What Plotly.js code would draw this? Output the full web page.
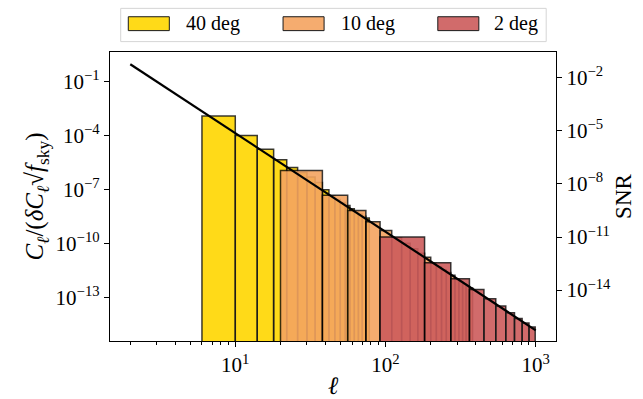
<!DOCTYPE html>
<html>
<head>
<meta charset="utf-8">
<script src="https://cdn.plot.ly/plotly-3.0.1.min.js"></script>
<style>
  html, body { margin: 0; padding: 0; background: #fff; }
  #chart { width: 643px; height: 399px; }
</style>
</head>
<body>
<div id="chart"></div>
<script>
// bin edges (multipole) and binned SNR for each patch size
const yellowEdges = [6, 10, 14, 18, 22, 26, 30, 34, 38, 42, 46, 50, 54, 58, 62, 66, 70, 74, 78];
const yellowSnr = [6.9e-5, 5.4e-6, 9.1e-7, 2.3e-7, 8.4e-8, 4.5e-8, 2.5e-8, 1.2e-8, 4.7e-9,
                   2.0e-9, 1.3e-9, 9e-10, 6e-10, 4e-10, 2.6e-10, 2e-10, 1.5e-10, 1.2e-10];

const orangeEdges = [20, 38, 56, 74, 92, 110, 128, 146, 164, 182, 200, 218, 236, 254, 272,
                     290, 308, 326, 344, 362, 380];
const orangeSnr = [5.7e-8, 2.3e-9, 3.2e-10, 7.3e-11, 2.3e-11, 9e-12, 4.5e-12, 2.2e-12, 1.2e-12,
                   7.1e-13, 3.2e-13, 2.1e-13, 1.4e-13, 1e-13, 6.9e-14, 4e-14, 3e-14, 2.2e-14,
                   1.6e-14, 1.3e-14];

const redEdges = [92, 182, 272, 362, 452, 542, 632, 722, 812, 902, 992];
const redSnr = [1.0e-11, 3.5e-13, 4.4e-14, 1.07e-14, 3.2e-15, 1.24e-15, 5.2e-16, 2.5e-16,
                1.37e-16, 8.1e-17];

// per-multipole ratio (straight line in log-log)
const ellLine = [2, 10, 100, 1000];
const ratioLine = [0.93, 1.4e-4, 4.8e-10, 1.6e-15];

const labels = ['40 deg', '10 deg', '2 deg'];
const colors = ['#ffd700', '#f4a460', '#cd5c5c'];

const xTickVals = [10, 100, 1000];
const xTickText = ['10<sup>1</sup>', '10<sup>2</sup>', '10<sup>3</sup>'];
const leftTickVals = [1e-1, 1e-4, 1e-7, 1e-10, 1e-13];
const leftTickText = ['10<sup>−1</sup>', '10<sup>−4</sup>', '10<sup>−7</sup>', '10<sup>−10</sup>', '10<sup>−13</sup>'];
const rightTickVals = [1e-2, 1e-5, 1e-8, 1e-11, 1e-14];
const rightTickText = ['10<sup>−2</sup>', '10<sup>−5</sup>', '10<sup>−8</sup>', '10<sup>−11</sup>', '10<sup>−14</sup>'];

const FONT = "'Liberation Serif', 'DejaVu Serif', serif";
const FLOOR = 1e-25; // bars run down past the bottom of the log axis

// bars as closed outlines, one polygon per bin, gaps between them
function binTrace(edges, snr, color, name) {
    const xs = [], ys = [];
    for (let i = 0; i < snr.length; i++) {
        const lo = edges[i], hi = edges[i + 1];
        xs.push(lo, lo, hi, hi, lo, null);
        ys.push(FLOOR, snr[i], snr[i], FLOOR, FLOOR, null);
    }
    return {
        type: 'scatter', mode: 'lines',
        name: name,
        x: xs, y: ys,
        fill: 'toself', fillcolor: color,
        line: { color: 'rgba(0,0,0,0.85)', width: 1.5 },
        opacity: 0.9,
        yaxis: 'y',
        hoverinfo: 'skip', showlegend: false
    };
}

const data = [
    binTrace(yellowEdges, yellowSnr, colors[0], labels[0]),
    binTrace(orangeEdges, orangeSnr, colors[1], labels[1]),
    binTrace(redEdges, redSnr, colors[2], labels[2]),
    {
        type: 'scatter', mode: 'lines',
        x: ellLine, y: ratioLine,
        yaxis: 'y2',
        line: { color: 'black', width: 2.2 },
        showlegend: false, hoverinfo: 'skip'
    }
];

// hand made legend, matplotlib style (wide patches)
const legendShapes = [{
    type: 'rect', xref: 'paper', yref: 'paper',
    x0: 0.024, x1: 0.978, y0: 1.036, y1: 1.151,
    line: { color: '#d5d5d5', width: 1 }, fillcolor: 'white'
}];
const legendAnnots = [];
const patchX = [0.041, 0.388, 0.735];
const textX = [0.166, 0.513, 0.857];
labels.forEach((lab, i) => {
    legendShapes.push({
        type: 'rect', xref: 'paper', yref: 'paper',
        x0: patchX[i], x1: patchX[i] + 0.092, y0: 1.074, y1: 1.122,
        line: { color: 'black', width: 1 }, fillcolor: colors[i], opacity: 0.9
    });
    legendAnnots.push({
        xref: 'paper', yref: 'paper', x: textX[i], y: 1.097,
        xanchor: 'left', yanchor: 'middle', showarrow: false,
        text: lab, font: { family: FONT, size: 20, color: 'black' }
    });
});

const axisCommon = {
    type: 'log',
    showgrid: false, zeroline: false,
    showline: true, linecolor: 'black', linewidth: 1.2,
    ticks: 'outside', ticklen: 5, tickwidth: 1, tickcolor: 'black',
    tickmode: 'array',
    tickfont: { family: FONT, size: 21, color: 'black' }
};

const layout = {
    width: 643, height: 399,
    margin: { l: 110, r: 87, t: 52, b: 58 },
    paper_bgcolor: 'white', plot_bgcolor: 'white',
    showlegend: false,
    font: { family: FONT, color: 'black' },
    xaxis: Object.assign({}, axisCommon, {
        range: [0.166, 3.135],
        tickvals: xTickVals, ticktext: xTickText,
        mirror: true,
        minor: { ticks: 'outside', ticklen: 3, tickcolor: 'black', tickwidth: 1, dtick: 'D1', showgrid: false },
        title: { text: '<i>ℓ</i>', font: { family: FONT, size: 25, color: 'black' }, standoff: 4 }
    }),
    // bars: SNR on the right
    yaxis: Object.assign({}, axisCommon, {
        side: 'right',
        range: [-16.88, -0.54],
        tickvals: rightTickVals, ticktext: rightTickText,
        title: { text: 'SNR', font: { family: FONT, size: 23, color: 'black' }, standoff: 4 }
    }),
    // line: per-multipole ratio on the left, drawn on top
    yaxis2: Object.assign({}, axisCommon, {
        overlaying: 'y', side: 'left',
        range: [-15.39, 0.65],
        tickvals: leftTickVals, ticktext: leftTickText,
        title: {
            text: '<i>C</i><sub><i>ℓ</i></sub>/(<i>δC</i><sub><i>ℓ</i></sub>√<i>f</i><sub>sky</sub>)',
            font: { family: FONT, size: 25, color: 'black' }, standoff: 4
        }
    }),
    shapes: legendShapes,
    annotations: legendAnnots
};

Plotly.newPlot('chart', data, layout, { displayModeBar: false, staticPlot: true });
</script>
</body>
</html>
